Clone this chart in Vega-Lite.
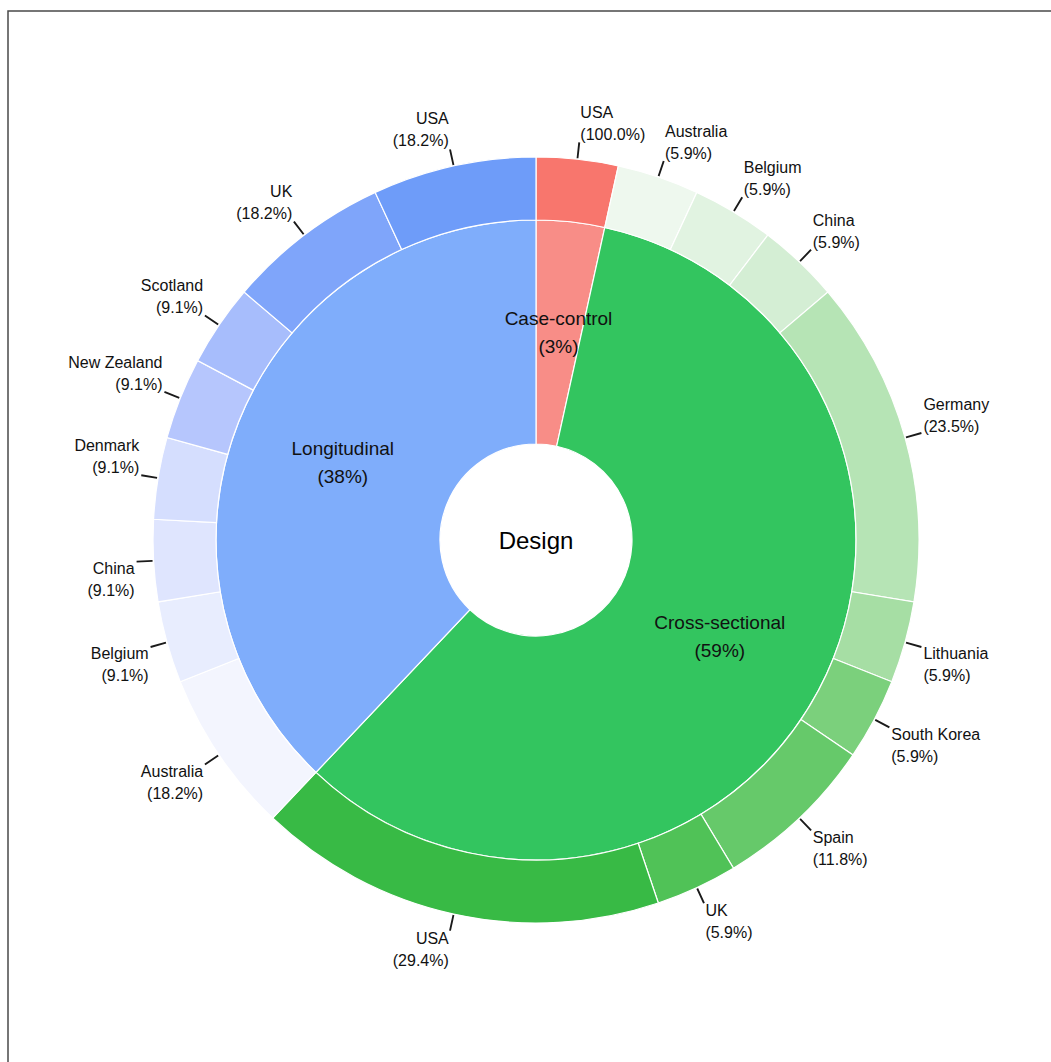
{
  "$schema": "https://vega.github.io/schema/vega-lite/v6.json",
  "width": 1056,
  "height": 1058,
  "autosize": "none",
  "padding": {"left": 8, "top": 11, "right": 0, "bottom": 0},
  "background": "white",
  "view": {"stroke": "#4a4a4a", "strokeWidth": 1.5, "fill": "white"},
  "config": {
    "view": {"stroke": "#4a4a4a", "strokeWidth": 1.5},
    "font": "Liberation Sans",
    "text": {"font": "Liberation Sans", "color": "#111111"}
  },
  "datasets": {
    "inner": [
      {"design": "Case-control", "n": 1, "pct": 3},
      {"design": "Cross-sectional", "n": 17, "pct": 59},
      {"design": "Longitudinal", "n": 11, "pct": 38}
    ],
    "outer": [
      {"design": "Case-control", "country": "USA", "n": 1, "pct": 100.0},
      {"design": "Cross-sectional", "country": "Australia", "n": 1, "pct": 5.9},
      {"design": "Cross-sectional", "country": "Belgium", "n": 1, "pct": 5.9},
      {"design": "Cross-sectional", "country": "China", "n": 1, "pct": 5.9},
      {"design": "Cross-sectional", "country": "Germany", "n": 4, "pct": 23.5},
      {"design": "Cross-sectional", "country": "Lithuania", "n": 1, "pct": 5.9},
      {"design": "Cross-sectional", "country": "South Korea", "n": 1, "pct": 5.9},
      {"design": "Cross-sectional", "country": "Spain", "n": 2, "pct": 11.8},
      {"design": "Cross-sectional", "country": "UK", "n": 1, "pct": 5.9},
      {"design": "Cross-sectional", "country": "USA", "n": 5, "pct": 29.4},
      {"design": "Longitudinal", "country": "Australia", "n": 2, "pct": 18.2},
      {"design": "Longitudinal", "country": "Belgium", "n": 1, "pct": 9.1},
      {"design": "Longitudinal", "country": "China", "n": 1, "pct": 9.1},
      {"design": "Longitudinal", "country": "Denmark", "n": 1, "pct": 9.1},
      {"design": "Longitudinal", "country": "New Zealand", "n": 1, "pct": 9.1},
      {"design": "Longitudinal", "country": "Scotland", "n": 1, "pct": 9.1},
      {"design": "Longitudinal", "country": "UK", "n": 2, "pct": 18.2},
      {"design": "Longitudinal", "country": "USA", "n": 2, "pct": 18.2}
    ]
  },
  "layer": [
    {
      "data": {"name": "inner"},
      "transform": [
        {"window": [{"op": "sum", "field": "n", "as": "cum"}], "sort": [{"field": "design"}], "frame": [null, 0]},
        {"calculate": "datum.cum - datum.n", "as": "start"},
        {"calculate": "datum.cum - datum.n / 2", "as": "mid"},
        {"calculate": "datum.design + '\\n(' + datum.pct + '%)'", "as": "label"}
      ],
      "layer": [
        {
          "mark": {"type": "arc", "radius": 320, "radius2": 96, "stroke": "white", "strokeWidth": 1.2},
          "encoding": {
            "theta": {"field": "start", "type": "quantitative", "stack": null, "scale": {"domain": [0, 29], "nice": false, "zero": true}},
            "theta2": {"field": "cum"},
            "color": {
              "field": "design", "type": "nominal", "legend": null,
              "scale": {"domain": ["Case-control", "Cross-sectional", "Longitudinal"], "range": ["#F88D87", "#33C55F", "#7FADFB"]}
            }
          }
        },
        {
          "mark": {"type": "text", "radius": 208, "fontSize": 19, "lineBreak": "\n", "lineHeight": 28, "align": "center", "baseline": "middle", "dy": -14},
          "encoding": {
            "theta": {"field": "mid", "type": "quantitative", "stack": null},
            "text": {"field": "label"}
          }
        }
      ]
    },
    {
      "data": {"name": "outer"},
      "transform": [
        {"window": [{"op": "sum", "field": "n", "as": "cum"}], "sort": [{"field": "design"}, {"field": "country"}], "frame": [null, 0]},
        {"calculate": "datum.cum - datum.n", "as": "start"},
        {"calculate": "datum.cum - datum.n / 2", "as": "mid"},
        {"calculate": "datum.mid - 0.011", "as": "lo"},
        {"calculate": "datum.mid + 0.011", "as": "hi"},
        {"calculate": "datum.design + '|' + datum.country", "as": "key"},
        {"calculate": "datum.country + '\\n(' + format(datum.pct, '.1f') + '%)'", "as": "label"}
      ],
      "layer": [
        {
          "mark": {"type": "arc", "radius": 383, "radius2": 320, "stroke": "white", "strokeWidth": 1.2},
          "encoding": {
            "theta": {"field": "start", "type": "quantitative", "stack": null},
            "theta2": {"field": "cum"},
            "color": {
              "field": "key", "type": "nominal", "legend": null,
              "scale": {
                "domain": [
                  "Case-control|USA",
                  "Cross-sectional|Australia", "Cross-sectional|Belgium", "Cross-sectional|China", "Cross-sectional|Germany",
                  "Cross-sectional|Lithuania", "Cross-sectional|South Korea", "Cross-sectional|Spain", "Cross-sectional|UK", "Cross-sectional|USA",
                  "Longitudinal|Australia", "Longitudinal|Belgium", "Longitudinal|China", "Longitudinal|Denmark",
                  "Longitudinal|New Zealand", "Longitudinal|Scotland", "Longitudinal|UK", "Longitudinal|USA"
                ],
                "range": [
                  "#F8766D",
                  "#EEF8EE", "#E1F3E1", "#D4EED4", "#B6E4B5", "#A6DEA4", "#7BD07C", "#66C96A", "#50C257", "#38BA45",
                  "#F3F5FE", "#E8EDFE", "#DFE5FE", "#D5DEFE", "#B6C6FD", "#A7BDFC", "#7FA5FA", "#6E9CF9"
                ]
              }
            }
          }
        },
        {
          "mark": {"type": "arc", "radius": 400, "radius2": 384, "color": "#1a1a1a"},
          "encoding": {
            "theta": {"field": "lo", "type": "quantitative", "stack": null},
            "theta2": {"field": "hi"}
          }
        },
        {
          "transform": [{"filter": "datum.mid < 7.25"}],
          "mark": {"type": "text", "radius": 401, "fontSize": 16, "lineBreak": "\n", "lineHeight": 22, "align": "left", "baseline": "middle", "dy": -28, "dx": 1},
          "encoding": {
            "theta": {"field": "mid", "type": "quantitative", "stack": null},
            "text": {"field": "label"}
          }
        },
        {
          "transform": [{"filter": "datum.mid >= 7.25 && datum.mid < 14.5"}],
          "mark": {"type": "text", "radius": 401, "fontSize": 16, "lineBreak": "\n", "lineHeight": 22, "align": "left", "baseline": "middle", "dy": 7, "dx": 1},
          "encoding": {
            "theta": {"field": "mid", "type": "quantitative", "stack": null},
            "text": {"field": "label"}
          }
        },
        {
          "transform": [{"filter": "datum.mid >= 14.5 && datum.mid < 21.75"}],
          "mark": {"type": "text", "radius": 401, "fontSize": 16, "lineBreak": "\n", "lineHeight": 22, "align": "right", "baseline": "middle", "dy": 7, "dx": -1},
          "encoding": {
            "theta": {"field": "mid", "type": "quantitative", "stack": null},
            "text": {"field": "label"}
          }
        },
        {
          "transform": [{"filter": "datum.mid >= 21.75"}],
          "mark": {"type": "text", "radius": 401, "fontSize": 16, "lineBreak": "\n", "lineHeight": 22, "align": "right", "baseline": "middle", "dy": -29, "dx": -1},
          "encoding": {
            "theta": {"field": "mid", "type": "quantitative", "stack": null},
            "text": {"field": "label"}
          }
        }
      ]
    },
    {
      "data": {"values": [{"t": "Design"}]},
      "mark": {"type": "text", "fontSize": 24, "align": "center", "baseline": "middle", "color": "#000000", "dy": 2},
      "encoding": {"text": {"field": "t"}}
    }
  ],
  "resolve": {"scale": {"color": "independent"}}
}
